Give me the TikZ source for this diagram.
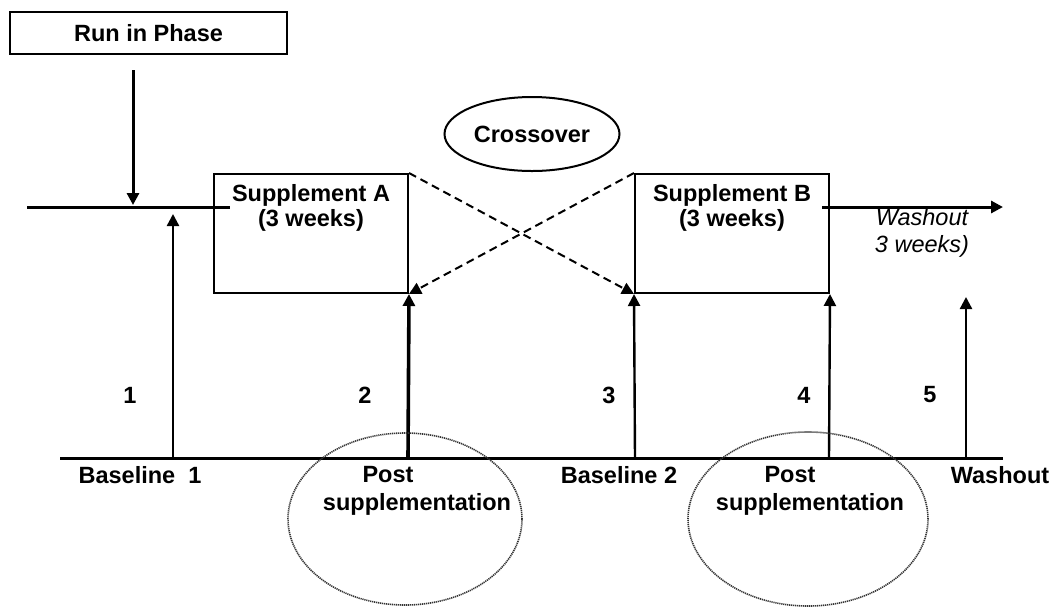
\documentclass[tikz,border=0pt]{standalone}
\usepackage{fontspec}
\setmainfont{Liberation Sans}
\usepackage{tikz}
\usetikzlibrary{arrows.meta,shapes.geometric,positioning}

\begin{document}
\begin{tikzpicture}[x=0.5pt,y=-0.5pt,>={Triangle[length=6pt,width=6pt]},
    lbl/.style={font=\bfseries\fontsize{11.75}{12.5}\selectfont,inner sep=0pt,align=center},
    phasebox/.style={draw,line width=1pt,inner sep=0pt,minimum width=138.5pt,minimum height=21pt},
    suppbox/.style={draw,line width=1pt,inner sep=0pt,minimum width=97pt,minimum height=59.5pt},
    visit/.style={draw=black!80,line width=0.8pt,dash pattern=on 0.6pt off 0.4pt,
      ellipse,inner sep=0pt,minimum width=117pt,minimum height=86pt}]
    \useasboundingbox (0,0) rectangle (1056,607);
    % boxes on the time line
    \node[phasebox,lbl] (runin) at (148.5,33) {Run in Phase};
    \node[suppbox] (suppA) at (311,233.5) {};
    \node[suppbox] (suppB) at (732,233.5) {};
    \node[lbl,below=5.5pt of suppA.north] (txtA) {Supplement A\\(3 weeks)};
    \node[lbl,below=5.5pt of suppB.north] (txtB) {Supplement B\\(3 weeks)};
    \node[draw,ellipse,line width=1pt,inner sep=0pt,minimum width=87.5pt,minimum height=37pt,lbl]
      (cross) at (532,134) {Crossover};
    \node[font=\itshape\fontsize{11.75}{13.5}\selectfont,inner sep=0pt,align=center]
      (washtxt) at (922,233) {Washout\\3 weeks)};
    % upper time line
    \coordinate (t0) at (27,207);
    \coordinate (tA) at (230,207);
    \coordinate (tB) at (822,207);
    \coordinate (tE) at (1003,207);
    \coordinate (drop) at (133,205);
    \draw[line width=1.5pt] (t0) -- (tA);
    \draw[->,line width=1.5pt] (tB) -- (tE);
    \draw[->,line width=1.5pt] ([xshift=-7.75pt,yshift=-7.5pt]runin.south) -- (drop);
    \draw[->,dashed,line width=1pt,dash pattern=on 4pt off 2.5pt] (suppA.north east) -- (suppB.south west);
    \draw[->,dashed,line width=1pt,dash pattern=on 4pt off 2.5pt] (suppB.north west) -- (suppA.south east);
    % visits
    \foreach \n/\x in {1/173,2/408,3/635,4/829,5/966}
      \coordinate (v\n) at (\x,458);
    \coordinate (b0) at (60,458);
    \coordinate (b1) at (1003,458);
    \coordinate (top1) at (173,214);
    \coordinate (top5) at (966,297);
    \draw[line width=1.5pt] (b0) -- (b1);
    \draw[->,line width=1.2pt] (v1) -- (top1);
    \draw[->,line width=1.8pt] (v2) -- (suppA.south east);
    \draw[->,line width=1.2pt] (v3) -- (suppB.south west);
    \draw[->,line width=1.2pt] (v4) -- (suppB.south east);
    \draw[->,line width=1.2pt] (v5) -- (top5);
    \foreach \n/\x in {1/130,2/365,3/609,4/804,5/930}
      \node[lbl] (num\n) at (\x,395) {\n};
    \node[lbl] (base1) at (140,475) {Baseline\ \ 1};
    \node[lbl] (post1) at (388,475) {Post};
    \node[lbl] (supp1) at (417,504) {supplementation};
    \node[lbl] (base2) at (619,475) {Baseline 2};
    \node[lbl] (post2) at (790,475) {Post};
    \node[lbl] (supp2) at (810,504) {supplementation};
    \node[lbl] (wash) at (1000,475) {Washout};
    \node[visit] (ring1) at (405,519) {};
    \node[visit,minimum width=120pt,minimum height=87pt] (ring2) at (808,519) {};
\end{tikzpicture}
\end{document}
